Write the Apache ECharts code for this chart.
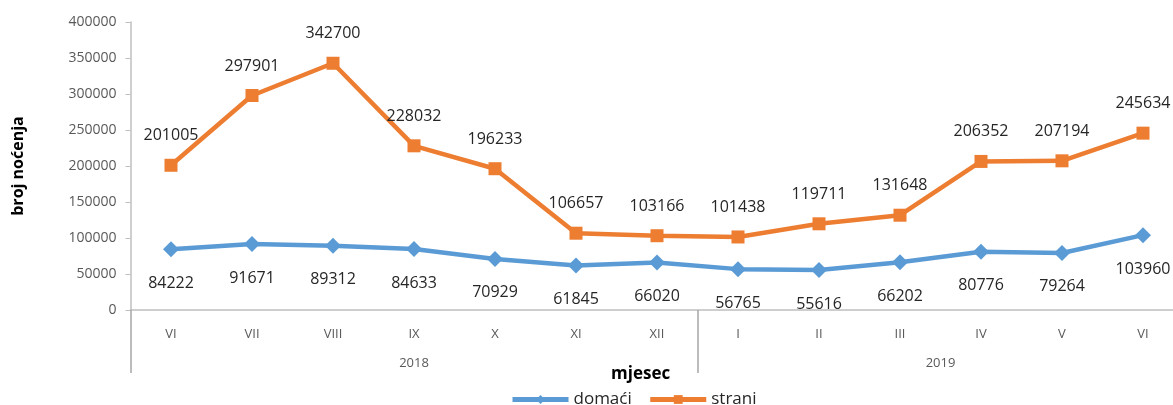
<!DOCTYPE html>
<html><head><meta charset="utf-8">
<script src="https://cdn.jsdelivr.net/npm/echarts@6/dist/echarts.min.js"></script>
<style>html,body{margin:0;padding:0;background:#fff}#c{width:1173px;height:405px}</style>
</head><body><div id="c"></div>
<script>
const months = ['VI','VII','VIII','IX','X','XI','XII','I','II','III','IV','V','VI'];
const years = ['2018','2019'];
const yearCenters = [3.5, 10];
const yearBounds = [0, 7, 13];
const domaci = [84222, 91671, 89312, 84633, 70929, 61845, 66020, 56765, 55616, 66202, 80776, 79264, 103960];
const strani = [201005, 297901, 342700, 228032, 196233, 106657, 103166, 101438, 119711, 131648, 206352, 207194, 245634];
const yTicks = [0, 50000, 100000, 150000, 200000, 250000, 300000, 350000, 400000];

const FONT = '"Open Sans", "Noto Sans", sans-serif';
const chart = echarts.init(document.getElementById('c'), null, {renderer:'canvas'});
chart.setOption({
  animation: false,
  title: {text: 'mjesec', left: 611, top: 366, padding: 0, textStyle: {fontFamily: FONT, fontSize: 17, fontWeight: 'bold', color: '#000'}},
  legend: {
    top: 391, left: 510, padding: 0, itemWidth: 56, itemHeight: 11, itemGap: 16,
    lineStyle: {width: 5},
    textStyle: {fontFamily: FONT, fontSize: 17, color: '#262626'},
    data: ['domaći', 'strani']
  },
  grid: {left: 130.5, width: 1053, top: 22, height: 288, containLabel: false, outerBoundsMode: 'none'},
  xAxis: [
    {type: 'category', data: months, boundaryGap: true,
     axisLine: {lineStyle: {color: '#bfbfbf', width: 1.5}},
     axisTick: {show: false},
     axisLabel: {fontFamily: FONT, fontSize: 13, color: '#595959', margin: 18}},
    {type: 'value', min: 0, max: 13, interval: 0.5, position: 'bottom',
     axisLine: {show: false}, splitLine: {show: false},
     axisTick: {show: true, customValues: yearBounds, length: 63, lineStyle: {color: '#a6a6a6', width: 1.5}},
     axisLabel: {customValues: yearCenters, fontFamily: FONT, fontSize: 13, color: '#595959', margin: 47,
       formatter: function (v) { const i = yearCenters.indexOf(v); return i >= 0 ? years[i] : ''; }}}
  ],
  yAxis: {
    type: 'value', min: yTicks[0], max: yTicks[yTicks.length - 1], interval: 50000,
    name: 'broj noćenja', nameLocation: 'middle', nameGap: 104, nameRotate: 90,
    nameTextStyle: {fontFamily: FONT, fontSize: 16, fontWeight: 'bold', color: '#000'},
    axisLine: {show: true, lineStyle: {color: '#bfbfbf', width: 1.5}},
    axisTick: {show: true, length: 5, lineStyle: {color: '#bfbfbf'}},
    splitLine: {show: false},
    axisLabel: {fontFamily: FONT, fontSize: 14, color: '#595959', margin: 14, formatter: function (v) { return String(v); }}
  },
  series: [
    {name: 'domaći', type: 'line', data: domaci, color: '#5B9BD5',
     symbol: 'diamond', symbolSize: [16, 16], lineStyle: {width: 4.5},
     label: {show: true, position: 'bottom', distance: 18, fontFamily: FONT, fontSize: 16, color: '#262626'}},
    {name: 'strani', type: 'line', data: strani, color: '#ED7D31',
     symbol: 'rect', symbolSize: 13, lineStyle: {width: 4.5},
     label: {show: true, position: 'top', distance: 15, fontFamily: FONT, fontSize: 16, color: '#262626'}}
  ]
});
</script></body></html>
